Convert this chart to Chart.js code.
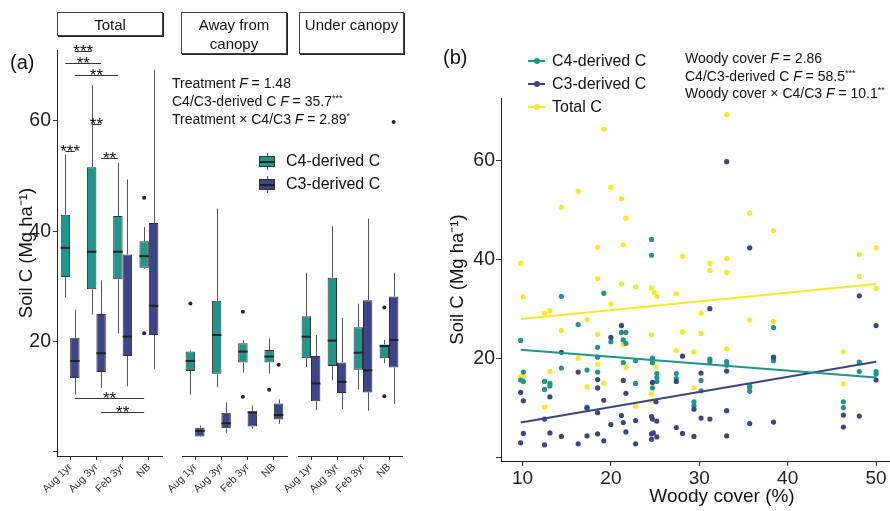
<!DOCTYPE html>
<html>
<head>
<meta charset="utf-8">
<script src="https://cdn.jsdelivr.net/npm/chart.js@4.4.1/dist/chart.umd.min.js"></script>
<style>
body { margin: 0; background: #fff; }
#fig { position: relative; width: 890px; height: 511px; overflow: hidden; font-family: 'Liberation Sans', Arial, sans-serif; color: #111; }
#fig canvas { position: absolute; top: 0; }
.tag { position: absolute; font-size: 20px; line-height: 24px; }
.strip { position: absolute; top: 12px; box-sizing: border-box; border: 1px solid #444; box-shadow: 1px 1px 0 #222; background: #fff; text-align: center; font-size: 15px; line-height: 19px; padding-top: 2px; }
.stat { position: absolute; font-size: 14px; line-height: 18px; white-space: nowrap; }
.stat sup { font-size: 9px; vertical-align: 5px; line-height: 0; }
.leg { position: absolute; height: 20px; line-height: 20px; font-size: 16px; white-space: nowrap; }
.bk { position: absolute; left: 0; top: 5px; width: 16px; height: 11px; box-sizing: border-box; border: 1px solid #333; }
.bk i { position: absolute; display: block; }
.bk .med { left: 0; right: 0; top: 3.5px; height: 2px; background: #222; }
.bk .wt { left: 6.5px; top: -4px; width: 1px; height: 3px; background: #555; }
.bk .wb { left: 6.5px; bottom: -4px; width: 1px; height: 3px; background: #555; }
.lk { position: absolute; left: 0; top: 9px; width: 17px; height: 2px; }
.dot { position: absolute; left: 5.5px; top: 7px; width: 6px; height: 6px; border-radius: 50%; }
</style>
</head>
<body>
<div id="fig">
  <canvas id="fa1" width="172" height="511" style="left:0px"></canvas>
  <canvas id="fa2" width="145" height="511" style="left:152px"></canvas>
  <canvas id="fa3" width="144" height="511" style="left:268px"></canvas>
  <canvas id="pb" width="540" height="511" style="left:420px"></canvas>

  <div class="tag" style="left:10px;top:50px">(a)</div>
  <div class="tag" style="left:443px;top:45px">(b)</div>

  <div class="strip" style="left:57px;width:106px;height:24px">Total</div>
  <div class="strip" style="left:181px;width:106px;height:42px">Away from<br>canopy</div>
  <div class="strip" style="left:299px;width:105px;height:42px">Under canopy</div>

  <div class="stat" style="left:172px;top:74px">
    Treatment <i>F</i> = 1.48<br>
    C4/C3-derived C <i>F</i> = 35.7<sup>***</sup><br>
    Treatment × C4/C3 <i>F</i> = 2.89<sup>*</sup>
  </div>
  <div class="stat" style="left:685px;top:50px;line-height:17.5px">
    Woody cover <i>F</i> = 2.86<br>
    C4/C3-derived C <i>F</i> = 58.5<sup>***</sup><br>
    Woody cover × C4/C3 <i>F</i> = 10.1<sup>**</sup>
  </div>
</div>

<script>
const family = "'Liberation Sans', Arial, sans-serif";
Chart.defaults.font.family = family;
Chart.defaults.color = '#222';

const c4Color = '#1f958b';
const c3Color = '#3d4589';
const totalColor = '#fde725';

// panel (a)
const treatments = ['Aug 1yr', 'Aug 3yr', 'Feb 3yr', 'NB'];
const boxSeries = ['C4-derived C', 'C3-derived C'];
const yTicksA = [0, 20, 40, 60];

// each row: [lower whisker, Q1, median, Q3, upper whisker]
const totalC4 = [[28.0, 31.7, 37.0, 43.0, 53.9], [24.9, 29.5, 36.3, 51.6, 66.5], [21.5, 31.3, 36.3, 42.8, 52.4], [33.2, 33.4, 35.5, 38.2, 40.8]];
const totalC3 = [[10.4, 13.4, 16.5, 20.7, 25.8], [11.6, 14.5, 17.9, 25.0, 31.1], [11.9, 17.4, 20.9, 35.8, 49.4], [15.1, 21.2, 26.5, 41.5, 69.3]];
const awayC4 = [[10.4, 14.7, 16.5, 18.2, 18.4], [11.7, 14.2, 21.2, 27.4, 44.1], [14.4, 16.2, 18.2, 19.7, 20.3], [14.2, 16.2, 17.3, 18.5, 20.6]];
const awayC3 = [[2.7, 2.8, 3.8, 4.4, 4.8], [3.5, 4.3, 5.2, 7.1, 9.0], [4.2, 4.6, 7.2, 7.3, 8.4], [5.1, 5.9, 6.7, 8.8, 9.5]];
const underC4 = [[15.4, 17.0, 20.9, 24.6, 32.5], [13.0, 15.6, 20.2, 31.6, 40.9], [11.3, 14.9, 18.0, 22.6, 26.9], [16.1, 17.0, 19.2, 19.5, 20.3]];
const underC3 = [[7.6, 9.2, 12.4, 17.4, 21.2], [7.8, 10.7, 12.7, 16.2, 24.3], [7.5, 10.8, 14.8, 27.5, 42.3], [8.7, 15.3, 20.3, 28.2, 32.5]];

const totalC4Out = [[], [], [], [46.1, 21.5]];
const totalC3Out = [[], [], [], []];
const awayC4Out = [[26.9], [], [25.4, 10.0], [11.3]];
const awayC3Out = [[], [], [], [15.8]];
const underC4Out = [[], [], [], [26.2, 10.1]];
const underC3Out = [[], [], [], [59.8]];

// significance brackets in the Total facet: [treatment index, series index]
const totalSig = [
    { from: [0, 1], to: [1, 0], y: 72.68, label: '***' },
    { from: [0, 0], to: [1, 1], y: 70.5, label: '**' },
    { from: [0, 1], to: [2, 0], y: 68.3, label: '**' },
    { from: [1, 0], to: [1, 1], y: 59.45, label: '**' },
    { from: [0, 0], to: [0, 1], y: 54.56, label: '***' },
    { from: [1, 1], to: [2, 0], y: 53.29, label: '**' },
    { from: [0, 1], to: [3, 0], y: 9.84, label: '**' },
    { from: [1, 1], to: [3, 0], y: 7.25, label: '**' }
];

// panel (b): [woody cover %, soil C]
const woodyTicks = [10, 20, 30, 40, 50];
const yTicksB = [0, 20, 40, 60];
const lineSeries = ['C4-derived C', 'C3-derived C', 'Total C'];

const totalPoints = [
    [19.2, 66.4], [20.0, 54.6], [16.3, 53.8], [21.2, 52.3], [14.4, 50.6], [21.7, 48.4], [21.4, 43.0], [18.5, 42.5],
    [9.8, 39.3], [18.5, 36.2], [21.2, 35.1], [22.8, 34.5], [19.2, 33.3], [10.1, 32.5], [20.0, 31.1], [13.1, 29.7],
    [12.5, 29.2], [17.3, 27.9], [21.2, 26.9], [14.4, 25.7], [18.5, 24.9], [21.4, 22.8], [16.3, 20.1], [18.5, 18.9],
    [21.7, 18.2], [13.1, 17.4], [9.8, 16.4], [10.1, 16.4], [17.3, 14.3], [19.2, 15.0], [12.5, 10.2], [22.8, 10.4],
    [33.1, 69.3], [35.7, 49.4], [28.1, 40.7], [31.2, 39.3], [33.1, 40.2], [31.2, 37.8], [33.1, 37.4], [24.6, 34.3],
    [24.9, 33.4], [25.2, 32.6], [27.4, 33.1], [30.2, 29.2], [35.7, 27.8], [24.6, 24.8], [28.1, 25.4], [30.2, 25.1],
    [33.1, 22.0], [27.4, 21.6], [29.4, 21.4], [25.1, 18.3], [29.4, 14.1], [24.6, 12.9], [24.6, 11.5],
    [38.4, 45.9], [50.0, 42.4], [48.1, 41.1], [48.1, 36.6], [50.0, 34.2], [38.4, 27.5], [46.3, 21.4], [46.3, 14.9]
];
const c4Points = [
    [14.4, 32.6], [19.2, 33.2], [16.3, 26.9], [21.2, 25.3], [21.7, 25.3], [9.8, 23.7], [21.4, 23.8], [20.0, 23.4],
    [21.7, 23.1], [18.5, 22.3], [18.5, 20.3], [22.8, 19.6], [21.4, 19.2], [14.4, 18.1], [17.3, 17.7], [18.5, 17.3],
    [10.1, 17.3], [9.8, 15.7], [10.1, 15.4], [12.5, 15.4], [13.1, 15.0], [13.1, 14.5], [12.5, 13.8], [22.8, 15.0],
    [17.3, 10.2],
    [24.6, 44.1], [24.6, 40.9], [24.7, 20.1], [24.7, 19.2], [31.2, 19.9], [31.2, 19.4], [33.1, 19.4], [33.1, 18.7],
    [25.2, 17.0], [25.2, 16.2], [25.2, 15.4], [27.4, 17.0], [27.4, 16.0], [30.2, 15.6], [30.2, 13.5], [24.7, 14.1],
    [35.7, 14.5], [35.7, 14.2], [35.7, 13.4], [29.4, 11.3], [29.4, 10.5],
    [38.4, 26.3], [38.4, 19.6], [48.1, 19.3], [48.1, 17.4], [50.0, 17.4], [50.0, 16.9], [46.3, 11.3], [46.3, 10.1]
];
const c3Points = [
    [21.2, 26.7], [20.0, 24.3], [14.4, 21.3], [16.3, 17.3], [18.5, 15.8], [21.4, 15.6], [18.5, 14.1], [9.8, 13.2],
    [21.7, 13.0], [13.1, 12.3], [10.1, 11.5], [19.2, 11.6], [17.3, 10.0], [18.5, 9.1], [21.2, 8.5], [12.5, 7.8],
    [22.8, 7.5], [21.4, 7.1], [20.0, 6.7], [21.7, 5.2], [10.1, 4.9], [13.1, 5.0], [14.4, 4.3], [17.3, 4.4],
    [18.5, 4.8], [9.8, 3.0], [12.5, 2.6], [16.3, 2.8], [19.2, 3.4], [22.8, 2.8],
    [33.1, 59.8], [35.7, 42.4], [31.2, 30.1], [28.1, 20.5], [33.1, 17.5], [30.2, 17.1], [27.4, 15.4], [24.7, 15.2],
    [25.1, 11.3], [29.4, 9.8], [33.1, 9.5], [24.6, 8.3], [24.7, 7.8], [25.2, 7.4], [30.2, 8.0], [31.2, 7.8],
    [35.7, 6.9], [27.4, 6.1], [28.1, 4.9], [24.6, 4.8], [24.8, 5.0], [25.2, 4.2], [24.6, 3.7], [29.4, 4.3], [33.1, 4.4],
    [48.1, 32.7], [50.0, 26.7], [38.4, 20.3], [50.0, 15.7], [46.3, 8.6], [48.1, 8.4], [46.3, 6.2], [38.4, 7.2]
];

// fitted lines read at the two ends
const totalFit = [[9.8, 28.0], [50.0, 35.1]];
const c4Fit = [[9.8, 21.8], [50.0, 16.2]];
const c3Fit = [[9.8, 7.1], [50.0, 19.4]];


// draws whiskers, medians and outliers on top of the floating bars
const boxPlugin = {
    id: 'boxes',
    afterDatasetsDraw(chart) {
        const ctx = chart.ctx;
        const ys = chart.scales.y;
        chart.data.datasets.forEach((ds, di) => {
            chart.getDatasetMeta(di).data.forEach((bar, i) => {
                const [lo, q1, med, q3, hi] = ds.stats[i];
                const x = Math.round(bar.x) + 0.5;
                const half = bar.width / 2;
                ctx.save();
                ctx.strokeStyle = '#555';
                ctx.lineWidth = 1;
                ctx.beginPath();
                ctx.moveTo(x, ys.getPixelForValue(hi));
                ctx.lineTo(x, ys.getPixelForValue(q3));
                ctx.moveTo(x, ys.getPixelForValue(q1));
                ctx.lineTo(x, ys.getPixelForValue(lo));
                ctx.stroke();

                const ym = ys.getPixelForValue(med);
                ctx.strokeStyle = '#222';
                ctx.lineWidth = 2;
                ctx.beginPath();
                ctx.moveTo(bar.x - half, ym);
                ctx.lineTo(bar.x + half, ym);
                ctx.stroke();

                ctx.fillStyle = '#222';
                ds.outliers[i].forEach(v => {
                    ctx.beginPath();
                    ctx.arc(bar.x, ys.getPixelForValue(v), 2, 0, Math.PI * 2);
                    ctx.fill();
                });
                ctx.restore();
            });
        });
    }
};

const makeSigPlugin = (marks) => ({
    id: 'sig',
    afterDatasetsDraw(chart) {
        const ctx = chart.ctx;
        const ys = chart.scales.y;
        const px = ([cat, s]) => chart.getDatasetMeta(s).data[cat].x;
        ctx.save();
        ctx.strokeStyle = '#333';
        ctx.lineWidth = 1;
        ctx.fillStyle = '#111';
        ctx.font = '17px ' + family;
        ctx.textAlign = 'center';
        ctx.textBaseline = 'alphabetic';
        marks.forEach(m => {
            const x1 = px(m.from), x2 = px(m.to);
            const yy = Math.round(ys.getPixelForValue(m.y)) + 0.5;
            ctx.beginPath();
            ctx.moveTo(x1, yy);
            ctx.lineTo(x2, yy);
            ctx.stroke();
            ctx.fillText(m.label, (x1 + x2) / 2, yy + 5);
        });
        ctx.restore();
    }
});

const facetChart = (id, c4, c3, c4Out, c3Out, showY, padLeft, marks) => {
    const plugins = [boxPlugin];
    if (marks) plugins.push(makeSigPlugin(marks));
    return new Chart(document.getElementById(id), {
        type: 'bar',
        data: {
            labels: treatments,
            datasets: [{
                label: boxSeries[0],
                data: c4.map(b => [b[1], b[3]]),
                stats: c4,
                outliers: c4Out,
                backgroundColor: c4Color
            }, {
                label: boxSeries[1],
                data: c3.map(b => [b[1], b[3]]),
                stats: c3,
                outliers: c3Out,
                backgroundColor: c3Color
            }]
        },
        options: {
            responsive: false,
            animation: false,
            layout: { padding: { left: padLeft, right: 10, top: 50, bottom: 0 } },
            datasets: {
                bar: {
                    categoryPercentage: 0.72,
                    barPercentage: 1,
                    borderWidth: 1,
                    borderColor: '#333',
                    borderSkipped: false
                }
            },
            plugins: {
                legend: { display: false },
                tooltip: { enabled: false }
            },
            scales: {
                x: {
                    offset: true,
                    grid: { drawOnChartArea: false, offset: false, tickLength: 4, color: '#333' },
                    border: { display: true, color: '#222', width: 1 },
                    ticks: {
                        autoSkip: false,
                        minRotation: 45,
                        maxRotation: 45,
                        padding: 1,
                        color: '#333',
                        font: { size: 10.5 }
                    },
                    afterFit: s => { s.height = 55; }
                },
                y: {
                    display: showY,
                    min: -0.73,
                    max: 72.87,
                    afterBuildTicks: s => { s.ticks = yTicksA.map(v => ({ value: v })); },
                    grid: { drawOnChartArea: false, tickLength: 4, color: '#333' },
                    border: { display: true, color: '#222', width: 1 },
                    ticks: {
                        padding: 2,
                        color: '#222',
                        font: { size: 19.5 },
                        callback: v => v === 0 ? '' : v
                    },
                    title: {
                        display: true,
                        text: 'Soil C (Mg ha⁻¹)',
                        color: '#111',
                        font: { size: 18.5 },
                        padding: { top: 16 }
                    },
                    afterFit: s => { s.width = showY ? 57 : 0; }
                }
            }
        },
        plugins: plugins
    });
};

facetChart('fa1', totalC4, totalC3, totalC4Out, totalC3Out, true, 0, totalSig);
facetChart('fa2', awayC4, awayC3, awayC4Out, awayC3Out, false, 30, null);
facetChart('fa3', underC4, underC3, underC4Out, underC3Out, false, 30, null);

const toXY = (pts) => pts.map(([x, y]) => ({ x: x, y: y }));

new Chart(document.getElementById('pb'), {
    type: 'scatter',
    data: {
        datasets: [{
            label: lineSeries[0] + ' fit',
            data: toXY(c4Fit),
            showLine: true,
            borderColor: c4Color,
            borderWidth: 2,
            pointRadius: 0,
            order: 0
        }, {
            label: lineSeries[1] + ' fit',
            data: toXY(c3Fit),
            showLine: true,
            borderColor: c3Color,
            borderWidth: 2,
            pointRadius: 0,
            order: 0
        }, {
            label: lineSeries[2] + ' fit',
            data: toXY(totalFit),
            showLine: true,
            borderColor: totalColor,
            borderWidth: 2,
            pointRadius: 0,
            order: 0
        }, {
            label: lineSeries[1],
            data: toXY(c3Points),
            backgroundColor: c3Color,
            pointRadius: 2.6,
            pointBorderWidth: 0,
            order: 1
        }, {
            label: lineSeries[0],
            data: toXY(c4Points),
            backgroundColor: c4Color,
            pointRadius: 2.6,
            pointBorderWidth: 0,
            order: 2
        }, {
            label: lineSeries[2],
            data: toXY(totalPoints),
            backgroundColor: totalColor,
            pointRadius: 2.6,
            pointBorderWidth: 0,
            order: 3
        }]
    },
    options: {
        responsive: false,
        animation: false,
        layout: { padding: { left: 0, right: 17, top: 98, bottom: 0 } },
        plugins: {
            legend: { display: false },
            tooltip: { enabled: false }
        },
        scales: {
            x: {
                type: 'linear',
                min: 7.57,
                max: 57.57,
                afterBuildTicks: s => { s.ticks = woodyTicks.map(v => ({ value: v })); },
                grid: { drawOnChartArea: false, tickLength: 5, color: '#333' },
                border: { display: true, color: '#222', width: 1 },
                ticks: { padding: 1, color: '#222', font: { size: 19 } },
                title: {
                    display: true,
                    text: 'Woody cover (%)',
                    color: '#111',
                    font: { size: 19 },
                    padding: { top: 0, bottom: 3 }
                },
                afterFit: s => { s.height = 50; }
            },
            y: {
                min: -0.67,
                max: 72.67,
                afterBuildTicks: s => { s.ticks = yTicksB.map(v => ({ value: v })); },
                grid: { drawOnChartArea: false, tickLength: 5, color: '#333' },
                border: { display: true, color: '#222', width: 1 },
                ticks: {
                    padding: 1,
                    color: '#222',
                    font: { size: 19.5 },
                    callback: v => v === 0 ? '' : v
                },
                title: {
                    display: true,
                    text: 'Soil C (Mg ha⁻¹)',
                    color: '#111',
                    font: { size: 18.5 },
                    padding: { top: 27 }
                },
                afterFit: s => { s.width = 81; }
            }
        }
    }
});

// legends
const fig = document.getElementById('fig');

[c4Color, c3Color].forEach((color, i) => {
    const row = document.createElement('div');
    row.className = 'leg';
    row.style.left = '259px';
    row.style.top = (151 + i * 23) + 'px';
    row.innerHTML = '<span class="bk" style="background:' + color + '"><i class="med"></i><i class="wt"></i><i class="wb"></i></span>' +
        '<span style="margin-left:27px">' + boxSeries[i] + '</span>';
    fig.appendChild(row);
});

[c4Color, c3Color, totalColor].forEach((color, i) => {
    const row = document.createElement('div');
    row.className = 'leg';
    row.style.left = '528px';
    row.style.top = (51 + i * 23) + 'px';
    row.innerHTML = '<span class="lk" style="background:' + color + '"></span><span class="dot" style="background:' + color + '"></span>' +
        '<span style="margin-left:24px">' + lineSeries[i] + '</span>';
    fig.appendChild(row);
});
</script>
</body>
</html>
